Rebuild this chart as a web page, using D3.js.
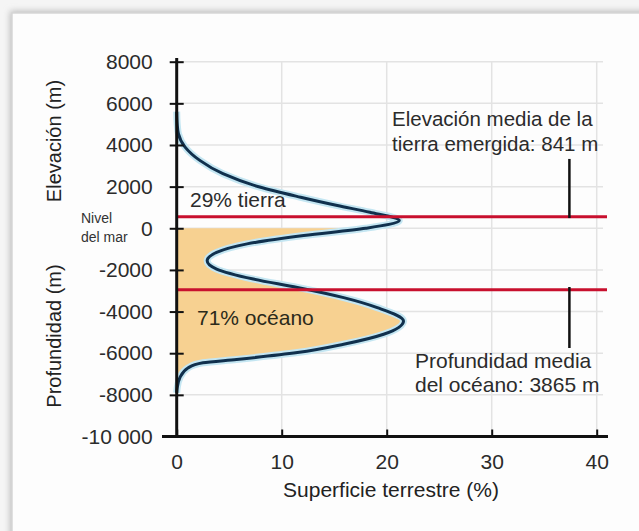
<!DOCTYPE html>
<html>
<head>
<meta charset="utf-8">
<script src="https://cdn.jsdelivr.net/npm/d3@7"></script>
<style>
  body { margin: 0; background: #f5f5f5; }
  svg { display: block; font-family: "Liberation Sans", Arial, sans-serif; }
  .tick text { fill: #2b2b2b; }
</style>
</head>
<body>
<div id="vis"></div>
<script>
// hypsometric curve (elevation in m, % of surface)
var elevation = [5600, 5000, 4550, 3900, 3260, 2620, 1980, 1490, 1090, 770, 370, 0,
  -350, -750, -1160, -1560, -1960, -2440, -2840, -3330, -3810, -4450, -5090,
  -5570, -5970, -6300, -6460, -6700, -7180, -7660, -7900];
var surface = [0, 0.05, 0.16, 0.8, 2.2, 4.4, 7.9, 11.8, 15.3, 18.4, 21.2, 18,
  12.1, 6.7, 3.8, 2.9, 3.8, 7.3, 11.5, 15.9, 19.1, 21.6, 19.7,
  15.9, 11.5, 5.7, 2.5, 1.1, 0.3, 0.05, 0];

var yTicks = [-10000, -8000, -6000, -4000, -2000, 0, 2000, 4000, 6000, 8000];
var yTickLabels = ["-10 000", "-8000", "-6000", "-4000", "-2000", "0", "2000", "4000", "6000", "8000"];
var xTicks = [0, 10, 20, 30, 40];

// mean lines as drawn in the figure, and the marker bars at 37.4 %
var meanLevels = [550, -2950];
var markerX = 37.4;
var markerSpans = [[3330, 490], [-2820, -5750]];

var width = 639,
	height = 531;

var x = d3.scaleLinear().domain([0, 40]).range([176.7, 596.7]),
	y = d3.scaleLinear().domain([-10000, 8000]).range([436.5, 61.7]);

var svg = d3.select('#vis')
	.append('svg')
	.attr('width', width)
	.attr('height', height);

// soft panel behind the chart
var defs = svg.append('defs');
var shadow = defs.append('filter').attr('id', 'shadow')
	.attr('x', '-5%').attr('y', '-5%').attr('width', '110%').attr('height', '110%');
shadow.append('feGaussianBlur').attr('stdDeviation', 3);

svg.append('rect')
	.attr('x', 10).attr('y', 11).attr('width', 660).attr('height', 560)
	.style('fill', '#bbb')
	.attr('filter', 'url(#shadow)');
svg.append('rect')
	.attr('x', 12).attr('y', 13).attr('width', 660).attr('height', 560)
	.style('fill', '#fdfdfd')
	.style('stroke', '#d6d6d6')
	.style('stroke-width', 1.5);

// grid
svg.append('g')
	.selectAll('line')
	.data(yTicks.filter(function(d) { return d > -10000; }))
	.enter()
	.append('line')
	.attr('x1', x(0)).attr('x2', 603)
	.attr('y1', function(d) { return y(d); })
	.attr('y2', function(d) { return y(d); })
	.style('stroke', '#e3e3e3')
	.style('stroke-width', 1.5);

svg.append('g')
	.selectAll('line')
	.data(xTicks.filter(function(d) { return d > 0; }))
	.enter()
	.append('line')
	.attr('x1', function(d) { return x(d); })
	.attr('x2', function(d) { return x(d); })
	.attr('y1', y(8000)).attr('y2', y(-10000))
	.style('stroke', '#e3e3e3')
	.style('stroke-width', 1.5);

var points = elevation.map(function(e, i) { return {e: e, p: surface[i]}; });

// ocean fill: from the axis to the curve, below sea level
var area = d3.area()
	.curve(d3.curveMonotoneY)
	.y(function(d) { return y(d.e); })
	.x0(x(0))
	.x1(function(d) { return x(d.p); });

svg.append('path')
	.datum(points.filter(function(d) { return d.e <= 0; }))
	.attr('d', area)
	.style('fill', '#f7d191');

// labels inside the plot
svg.append('text')
	.attr('x', 190).attr('y', 207)
	.style('font-size', '21px').style('fill', '#2b2b2b')
	.text('29% tierra');
svg.append('text')
	.attr('x', 197).attr('y', 325)
	.style('font-size', '21px').style('fill', '#2b2a1a')
	.text('71% océano');

var line = d3.line()
	.curve(d3.curveMonotoneY)
	.x(function(d) { return x(d.p); })
	.y(function(d) { return y(d.e); });

svg.append('path')
	.datum(points)
	.attr('d', line)
	.style('fill', 'none')
	.style('stroke', '#c4e6f2')
	.style('stroke-width', 7);
svg.append('path')
	.datum(points)
	.attr('d', line)
	.style('fill', 'none')
	.style('stroke', '#10304d')
	.style('stroke-width', 3);

// mean level lines
svg.append('g')
	.selectAll('line')
	.data(meanLevels)
	.enter()
	.append('line')
	.attr('x1', x(0)).attr('x2', 607)
	.attr('y1', function(d) { return y(d); })
	.attr('y2', function(d) { return y(d); })
	.style('stroke', '#c8102e')
	.style('stroke-width', 3);

svg.append('g')
	.selectAll('line')
	.data(markerSpans)
	.enter()
	.append('line')
	.attr('x1', x(markerX)).attr('x2', x(markerX))
	.attr('y1', function(d) { return y(d[0]); })
	.attr('y2', function(d) { return y(d[1]); })
	.style('stroke', '#111')
	.style('stroke-width', 2.5);

// axes
var yAxis = svg.append('g')
	.attr('transform', 'translate(' + x(0) + ',0)')
	.call(d3.axisLeft(y)
		.tickValues(yTicks)
		.tickFormat(function(d, i) { return yTickLabels[i]; })
		.tickSize(7)
		.tickPadding(17));
yAxis.select('.domain').remove();
yAxis.selectAll('.tick line')
	.attr('x1', -7).attr('x2', 7)
	.style('stroke', '#111').style('stroke-width', 2);
yAxis.selectAll('.tick text')
	.style('font-size', '21px')
	.style('font-family', '"Liberation Sans", Arial, sans-serif');

var xAxis = svg.append('g')
	.attr('transform', 'translate(0,' + y(-10000) + ')')
	.call(d3.axisBottom(x)
		.tickValues(xTicks)
		.tickSize(7)
		.tickPadding(11));
xAxis.select('.domain').remove();
xAxis.selectAll('.tick line')
	.attr('y1', -7).attr('y2', 1)
	.style('stroke', '#111').style('stroke-width', 2);
xAxis.selectAll('.tick text')
	.style('font-size', '21px')
	.style('font-family', '"Liberation Sans", Arial, sans-serif');

svg.append('line')
	.attr('x1', x(0)).attr('x2', x(0))
	.attr('y1', 58).attr('y2', y(-10000) + 1.5)
	.style('stroke', '#111').style('stroke-width', 3);
svg.append('line')
	.attr('x1', 162).attr('x2', 608)
	.attr('y1', y(-10000)).attr('y2', y(-10000))
	.style('stroke', '#111').style('stroke-width', 3);

// axis titles
svg.append('text')
	.attr('transform', 'translate(61,141) rotate(-90)')
	.attr('text-anchor', 'middle')
	.style('font-size', '20px').style('fill', '#222')
	.text('Elevación (m)');
svg.append('text')
	.attr('transform', 'translate(61,336) rotate(-90)')
	.attr('text-anchor', 'middle')
	.style('font-size', '20px').style('fill', '#222')
	.text('Profundidad (m)');

svg.append('text')
	.attr('x', 391).attr('y', 497)
	.attr('text-anchor', 'middle')
	.style('font-size', '21px').style('fill', '#222')
	.text('Superficie terrestre (%)');

var nivel = svg.append('text')
	.style('font-size', '14px').style('fill', '#333');
nivel.append('tspan').attr('x', 81).attr('y', 223).text('Nivel');
nivel.append('tspan').attr('x', 81).attr('y', 242).text('del mar');

// annotations
var topNote = svg.append('text')
	.style('font-size', '20.5px').style('fill', '#2b2b2b');
topNote.append('tspan').attr('x', 392).attr('y', 125.5).text('Elevación media de la');
topNote.append('tspan').attr('x', 392).attr('y', 150.5).text('tierra emergida: 841 m');

var bottomNote = svg.append('text')
	.style('font-size', '21px').style('fill', '#2b2b2b');
bottomNote.append('tspan').attr('x', 415).attr('y', 368).text('Profundidad media');
bottomNote.append('tspan').attr('x', 415).attr('y', 391.5).text('del océano: 3865 m');
</script>
</body>
</html>
